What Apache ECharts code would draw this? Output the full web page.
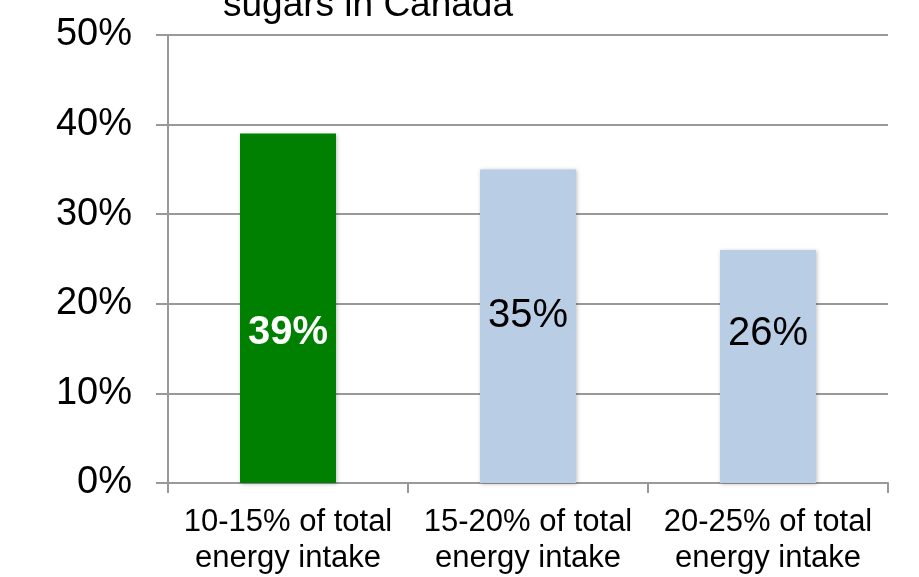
<!DOCTYPE html>
<html><head><meta charset="utf-8">
<script src="https://cdn.jsdelivr.net/npm/echarts@6/dist/echarts.min.js"></script>
<style>html,body{margin:0;padding:0;background:#fff}#c{width:919px;height:577px}</style>
</head><body><div id="c"></div>
<script>
var categories = ['10-15% of total\nenergy intake', '15-20% of total\nenergy intake', '20-25% of total\nenergy intake'];
var values = [39, 35, 26];
var barColors = ['#008000', '#b9cde5', '#b9cde5'];
var labelTexts = ['39%', '35%', '26%'];
var titleText = 'sugars in Canada';

var FONT = 'Liberation Sans, Arial, sans-serif';
var labelOffsets = [[0, 25], [0, -10], [0, -33]];
var labelStyles = [
  {color: '#ffffff', fontWeight: 'bold'},
  {color: '#000000', fontWeight: 'normal'},
  {color: '#000000', fontWeight: 'normal'}
];

var chart = echarts.init(document.getElementById('c'));
chart.setOption({
  animation: false,
  title: {
    text: titleText, left: 368, textAlign: 'center', top: -13, padding: 0,
    textStyle: {fontFamily: FONT, fontSize: 37, fontWeight: 'normal', color: '#000'}
  },
  grid: {left: 168, right: 31, top: 35, bottom: 94, containLabel: false},
  xAxis: {
    type: 'category', data: categories,
    axisLine: {lineStyle: {color: '#999999', width: 2}},
    axisTick: {show: true, length: 10, lineStyle: {color: '#999999', width: 2}},
    axisLabel: {fontFamily: FONT, fontSize: 31, color: '#000', lineHeight: 36, margin: 21, interval: 0, hideOverlap: false}
  },
  yAxis: {
    type: 'value', min: 0, max: 50, interval: 10,
    axisLine: {show: true, lineStyle: {color: '#999999', width: 2}},
    axisTick: {show: true, length: 12, inside: false, lineStyle: {color: '#999999', width: 2}},
    splitLine: {lineStyle: {color: '#999999', width: 2}},
    axisLabel: {fontFamily: FONT, fontSize: 38, color: '#000', margin: 36, formatter: '{value}%'}
  },
  series: [{
    type: 'bar', barWidth: '40%',
    data: values.map(function (v, i) {
      return {
        value: v,
        itemStyle: {color: barColors[i], shadowColor: 'rgba(0,0,0,0.25)', shadowBlur: 4, shadowOffsetX: 1, shadowOffsetY: 1},
        label: {
          show: true, position: 'inside', offset: labelOffsets[i],
          formatter: labelTexts[i], fontFamily: FONT, fontSize: 40,
          color: labelStyles[i].color, fontWeight: labelStyles[i].fontWeight
        }
      };
    })
  }]
});
</script></body></html>
